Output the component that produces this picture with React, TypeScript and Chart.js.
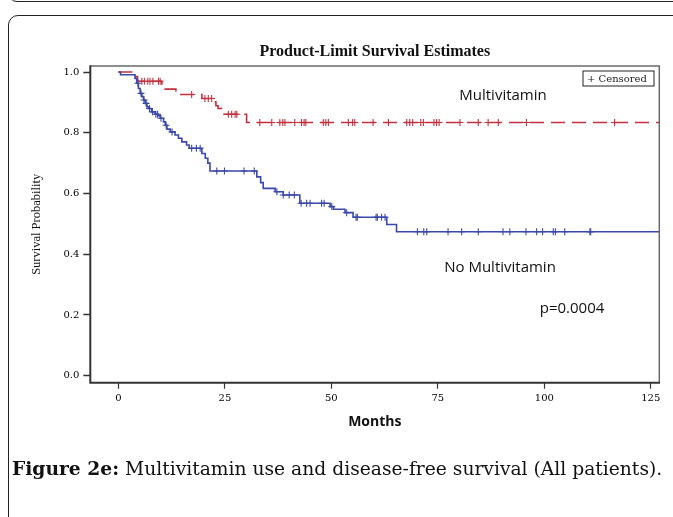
import React, { useEffect, useRef } from "react";
import { Chart, registerables } from "chart.js";

Chart.register(...registerables);

// ---- data ----
const xTicks = [0, 25, 50, 75, 100, 125];
const yTicks = [0.0, 0.2, 0.4, 0.6, 0.8, 1.0];

const multiTimes = [0, 3.5, 4.5, 10.2, 13.5, 19.6, 22.5, 22.9, 23.4, 24.3, 30.1, 127];
const multiSurv = [1.0, 0.985, 0.97, 0.944, 0.926, 0.913, 0.902, 0.889, 0.88, 0.861, 0.834, 0.834];
const multiCensor = [
  5.5, 6.1, 6.9, 7.4, 8.1, 9.4, 9.8, 17.2, 20.3, 21.1, 21.9, 25.8, 26.6, 27.4, 27.8,
  33.2, 36.0, 37.9, 38.6, 39.1, 41.4, 43.0, 43.6, 44.0, 48.1, 48.7, 49.3, 54.0, 55.0,
  55.5, 59.8, 63.4, 67.7, 68.4, 69.1, 71.0, 71.6, 74.1, 74.7, 75.3, 80.2, 84.5, 86.8,
  89.2, 95.8, 116.5,
];

const noTimes = [
  0, 0.5, 3.9, 4.3, 4.7, 5.1, 5.5, 5.9, 6.3, 6.7, 7.0, 7.8, 8.6, 9.4, 9.8, 10.6, 11.0,
  11.4, 12.2, 13.3, 14.1, 14.9, 16.0, 16.6, 19.6, 20.4, 21.0, 21.5, 32.5, 33.4, 34.0,
  36.8, 38.7, 42.6, 49.7, 50.5, 53.2, 55.1, 63.0, 65.3, 127,
];
const noSurv = [
  1.0, 0.991, 0.979, 0.963, 0.946, 0.93, 0.919, 0.908, 0.897, 0.886, 0.88, 0.869, 0.861,
  0.856, 0.848, 0.836, 0.825, 0.812, 0.803, 0.793, 0.782, 0.77, 0.76, 0.749, 0.732, 0.716,
  0.7, 0.674, 0.655, 0.636, 0.617, 0.606, 0.595, 0.568, 0.557, 0.548, 0.537, 0.522, 0.498,
  0.474, 0.474,
];
const noCensor = [
  4.6, 5.3, 6.0, 6.5, 7.3, 8.0, 8.8, 9.2, 10.0, 11.2, 12.6, 17.2, 18.3, 19.2, 23.1, 24.9,
  29.5, 31.9, 37.2, 38.7, 40.1, 41.3, 42.9, 44.2, 45.0, 47.7, 48.3, 50.1, 53.6, 55.8, 56.1,
  60.5, 60.8, 61.8, 62.6, 70.2, 71.7, 72.4, 77.4, 80.6, 84.5, 90.3, 91.9, 95.7, 98.2, 99.6,
  102.1, 102.6, 104.8, 110.7, 110.9,
];

const RED = "#c4303f";
const BLUE = "#3a48a8";

function stepAt(times: number[], surv: number[], t: number): number {
  let v = surv[0];
  for (let i = 0; i < times.length; i++) {
    if (times[i] <= t) v = surv[i];
  }
  return v;
}

const overlayPlugin = {
  id: "overlay",
  afterDraw(chart: any) {
    const { ctx, chartArea } = chart;
    const { left, right, top, bottom } = chartArea;
    const xs = chart.scales.x;
    const ys = chart.scales.y;
    ctx.save();
    // frame
    ctx.lineWidth = 1.5;
    ctx.strokeStyle = "#6a6a6a";
    ctx.beginPath();
    ctx.moveTo(left, top);
    ctx.lineTo(right, top);
    ctx.lineTo(right, bottom);
    ctx.stroke();
    ctx.lineWidth = 2;
    ctx.strokeStyle = "#333";
    ctx.beginPath();
    ctx.moveTo(left, top - 0.75);
    ctx.lineTo(left, bottom);
    ctx.lineTo(right + 0.75, bottom);
    ctx.stroke();

    // title
    ctx.fillStyle = "#111";
    ctx.font = 'bold 16px "Liberation Serif"';
    ctx.textAlign = "center";
    ctx.textBaseline = "middle";
    ctx.fillText("Product-Limit Survival Estimates", (left + right) / 2, 52);

    // legend box
    ctx.lineWidth = 1;
    ctx.strokeStyle = "#222";
    ctx.strokeRect(583, 71, 71, 15);
    ctx.font = '10px "DejaVu Serif"';
    ctx.textAlign = "left";
    ctx.fillStyle = "#222";
    ctx.fillText("+ Censored", 587, 79);

    // annotations
    ctx.font = '15px "Open Sans"';
    ctx.textAlign = "center";
    ctx.fillStyle = "#111";
    ctx.fillText("Multivitamin", xs.getPixelForValue(90.3), ys.getPixelForValue(0.921));
    ctx.fillText("No Multivitamin", xs.getPixelForValue(89.6), ys.getPixelForValue(0.355));
    ctx.fillText("p=0.0004", xs.getPixelForValue(106.5), ys.getPixelForValue(0.222));
    ctx.restore();
  },
};

export default function App() {
  const ref = useRef<HTMLCanvasElement | null>(null);

  useEffect(() => {
    if (!ref.current) return;
    const multiLine = multiTimes.map((t, i) => ({ x: t, y: multiSurv[i] }));
    const noLine = noTimes.map((t, i) => ({ x: t, y: noSurv[i] }));
    const multiMarks = multiCensor.map((t) => ({ x: t, y: stepAt(multiTimes, multiSurv, t) }));
    const noMarks = noCensor.map((t) => ({ x: t, y: stepAt(noTimes, noSurv, t) }));

    const chart = new Chart(ref.current, {
      type: "line",
      data: {
        datasets: [
          {
            label: "No Multivitamin",
            data: noLine,
            borderColor: BLUE,
            borderWidth: 1.6,
            stepped: true,
            pointRadius: 0,
            fill: false,
          },
          {
            label: "No Multivitamin censored",
            data: noMarks,
            showLine: false,
            pointStyle: "cross",
            pointRadius: 3.5,
            pointBorderWidth: 1.1,
            borderColor: BLUE,
            backgroundColor: BLUE,
          },
          {
            label: "Multivitamin",
            data: multiLine,
            borderColor: RED,
            borderWidth: 1.6,
            borderDash: [14, 7],
            stepped: true,
            pointRadius: 0,
            fill: false,
          },
          {
            label: "Multivitamin censored",
            data: multiMarks,
            showLine: false,
            pointStyle: "cross",
            pointRadius: 3.5,
            pointBorderWidth: 1.1,
            borderColor: RED,
            backgroundColor: RED,
          },
        ],
      },
      options: {
        animation: false,
        responsive: false,
        devicePixelRatio: 1,
        layout: { padding: { left: 0, top: 66, right: 13.7, bottom: 84.3 } },
        plugins: {
          legend: { display: false },
          tooltip: { enabled: false },
          title: { display: false },
        },
        scales: {
          x: {
            type: "linear",
            min: -6.6,
            max: 127,
            afterBuildTicks: (s: any) => {
              s.ticks = xTicks.map((v) => ({ value: v }));
            },
            afterFit: (s: any) => {
              s.height = 50;
            },
            ticks: {
              font: { family: "DejaVu Serif", size: 10 },
              color: "#000",
              padding: 4,
              maxRotation: 0,
              autoSkip: false,
            },
            grid: { drawOnChartArea: false, tickLength: 6, color: "#333", tickWidth: 1.2 },
            border: { display: false },
            title: {
              display: true,
              text: "Months",
              font: { family: "Open Sans", size: 14, weight: "bold" },
              color: "#111",
              padding: { top: 0, bottom: 2.3 },
            },
          },
          y: {
            type: "linear",
            min: -0.023,
            max: 1.02,
            afterBuildTicks: (s: any) => {
              s.ticks = yTicks.map((v) => ({ value: v }));
            },
            afterFit: (s: any) => {
              s.width = 90.3;
            },
            ticks: {
              font: { family: "DejaVu Serif", size: 10 },
              color: "#000",
              padding: 4,
              callback: (v: any) => Number(v).toFixed(1),
            },
            grid: { drawOnChartArea: false, tickLength: 7, color: "#333", tickWidth: 1.5 },
            border: { display: false },
            title: {
              display: true,
              text: "Survival Probability",
              font: { family: "Liberation Serif", size: 12.5 },
              color: "#111",
              padding: { top: 29.5, bottom: 0 },
            },
          },
        },
      },
      plugins: [overlayPlugin],
    });
    return () => chart.destroy();
  }, []);

  return (
    <div
      style={{
        position: "absolute",
        left: 0,
        top: 0,
        width: 673,
        height: 517,
        overflow: "hidden",
        background: "#fff",
      }}
    >
      <div
        style={{
          position: "absolute",
          left: 8,
          top: -30,
          width: 720,
          height: 32,
          border: "1.5px solid #222",
          borderRadius: 9,
          boxSizing: "border-box",
        }}
      />
      <div
        style={{
          position: "absolute",
          left: 8,
          top: 15,
          width: 720,
          height: 560,
          border: "1.5px solid #222",
          borderRadius: 10,
          boxSizing: "border-box",
        }}
      />
      <canvas
        ref={ref}
        width={673}
        height={517}
        style={{ position: "absolute", left: 0, top: 0, width: 673, height: 517 }}
      />
      <div
        style={{
          position: "absolute",
          left: 12,
          top: 457,
          fontFamily: '"DejaVu Serif", serif',
          fontSize: 18.7,
          lineHeight: "23px",
          color: "#111",
          whiteSpace: "nowrap",
        }}
      >
        <b>Figure 2e:</b> Multivitamin use and disease-free survival (All patients).
      </div>
    </div>
  );
}
